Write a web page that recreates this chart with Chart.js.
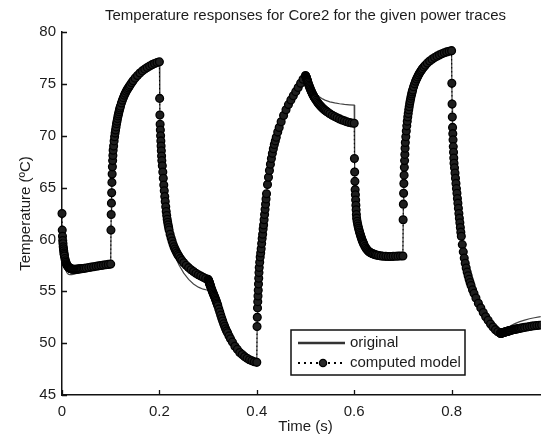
<!DOCTYPE html>
<html>
<head>
<meta charset="utf-8">
<script src="https://cdn.jsdelivr.net/npm/chart.js@4.4.1/dist/chart.umd.min.js"></script>
<style>
  html, body { margin: 0; padding: 0; background: #fff; }
  canvas { display: block; }
</style>
</head>
<body>
<canvas id="grafico" width="546" height="435"></canvas>
<script>
// ===========================
// Dados
// ===========================
const segmentStarts = [0, 0.1, 0.2, 0.3, 0.4, 0.5, 0.6, 0.7, 0.8, 0.9];

// instantes dentro de cada trecho (ms) - modelo
const modelOffsetsMs = [0, 0.5, 1, 1.5, 2, 2.5, 3, 3.5, 4, 4.5,
    5, 6, 7, 8, 9, 10, 11, 12, 13, 14,
    15, 16, 17, 18, 19, 20,
    22, 24, 26, 28, 30, 32, 34, 36, 38, 40,
    43, 46, 50,
    55, 60, 65, 70, 75, 80, 85, 90, 95];

// instantes dentro de cada trecho (ms) - original
const origOffsetsMs = [0, 1, 2, 3, 4, 6, 8, 10, 13, 16, 20, 25, 30, 35, 40, 50, 60, 70, 80, 90];

const model0 = [62.5, 60.9, 60.3, 59.9, 59.6, 59.3, 59.1, 58.9, 58.7, 58.55, 58.4, 58.15, 57.95, 57.8, 57.65, 57.55, 57.47, 57.4, 57.35, 57.3, 57.26, 57.23, 57.2, 57.18, 57.16, 57.15, 57.13, 57.12, 57.12, 57.12, 57.13, 57.14, 57.15, 57.16, 57.17, 57.18, 57.2, 57.22, 57.25, 57.29, 57.33, 57.37, 57.41, 57.45, 57.49, 57.52, 57.56, 57.59];
const model1 = [57.62, 60.9, 62.4, 63.5, 64.5, 65.5, 66.3, 67.0, 67.6, 68.1, 68.6, 69.0, 69.5, 69.9, 70.25, 70.55, 70.85, 71.15, 71.4, 71.65, 71.9, 72.1, 72.3, 72.5, 72.68, 72.85, 73.15, 73.42, 73.67, 73.9, 74.1, 74.28, 74.45, 74.6, 74.75, 74.9, 75.1, 75.3, 75.55, 75.8, 76.05, 76.25, 76.42, 76.58, 76.72, 76.85, 76.96, 77.05];
const model2 = [77.12, 73.6, 72.0, 71.1, 70.55, 70.0, 69.5, 69.0, 68.55, 68.05, 67.6, 67.1, 66.5, 65.9, 65.25, 64.7, 64.15, 63.65, 63.15, 62.7, 62.3, 61.95, 61.65, 61.4, 61.15, 60.9, 60.5, 60.15, 59.85, 59.55, 59.3, 59.08, 58.88, 58.7, 58.53, 58.38, 58.17, 57.98, 57.75, 57.5, 57.28, 57.08, 56.9, 56.74, 56.6, 56.47, 56.35, 56.23];
const model3 = [56.15, 56.1, 56.04, 55.98, 55.91, 55.84, 55.77, 55.7, 55.63, 55.56, 55.49, 55.36, 55.23, 55.1, 54.97, 54.85, 54.73, 54.62, 54.51, 54.4, 54.27, 54.14, 54.01, 53.87, 53.74, 53.6, 53.3, 53.0, 52.7, 52.4, 52.13, 51.86, 51.62, 51.38, 51.18, 51.0, 50.7, 50.42, 50.1, 49.7, 49.4, 49.1, 48.9, 48.7, 48.55, 48.4, 48.3, 48.2];
const model4 = [48.15, 51.6, 52.5, 53.4, 54.0, 54.55, 55.1, 55.7, 56.25, 56.8, 57.3, 57.8, 58.3, 58.7, 59.1, 59.6, 60.1, 60.5, 61.0, 61.4, 61.9, 62.4, 62.9, 63.4, 63.9, 64.4, 65.3, 66.0, 66.65, 67.25, 67.8, 68.3, 68.75, 69.15, 69.5, 69.85, 70.35, 70.8, 71.35, 71.95, 72.5, 73.0, 73.45, 73.85, 74.25, 74.65, 75.05, 75.45];
const model5 = [75.8, 75.75, 75.7, 75.63, 75.56, 75.49, 75.42, 75.35, 75.28, 75.21, 75.14, 75.0, 74.87, 74.74, 74.62, 74.5, 74.39, 74.28, 74.18, 74.08, 73.98, 73.89, 73.8, 73.72, 73.64, 73.56, 73.41, 73.27, 73.14, 73.02, 72.91, 72.81, 72.71, 72.62, 72.54, 72.46, 72.35, 72.25, 72.12, 71.98, 71.85, 71.73, 71.62, 71.52, 71.43, 71.35, 71.28, 71.22];
const model6 = [71.2, 67.8, 66.5, 65.6, 64.8, 64.3, 63.8, 63.3, 62.85, 62.4, 62.05, 61.75, 61.5, 61.28, 61.08, 60.9, 60.72, 60.56, 60.41, 60.26, 60.12, 59.98, 59.86, 59.74, 59.63, 59.52, 59.33, 59.17, 59.04, 58.93, 58.84, 58.77, 58.71, 58.66, 58.62, 58.58, 58.53, 58.49, 58.45, 58.41, 58.38, 58.37, 58.36, 58.36, 58.37, 58.38, 58.39, 58.4];
const model7 = [58.4, 61.9, 63.4, 64.45, 65.4, 66.2, 66.95, 67.6, 68.2, 68.8, 69.35, 69.9, 70.45, 70.95, 71.4, 71.8, 72.15, 72.5, 72.8, 73.1, 73.35, 73.6, 73.82, 74.03, 74.22, 74.4, 74.72, 75.0, 75.25, 75.47, 75.67, 75.85, 76.02, 76.18, 76.32, 76.45, 76.63, 76.8, 77.0, 77.2, 77.38, 77.53, 77.67, 77.79, 77.9, 78.0, 78.08, 78.15];
const model8 = [78.2, 75.05, 73.05, 71.8, 70.8, 70.2, 69.6, 68.95, 68.4, 67.85, 67.35, 66.9, 66.4, 65.9, 65.4, 64.9, 64.45, 63.95, 63.5, 63.0, 62.5, 62.05, 61.6, 61.15, 60.7, 60.3, 59.5, 58.8, 58.2, 57.7, 57.25, 56.85, 56.5, 56.15, 55.85, 55.55, 55.15, 54.8, 54.35, 53.85, 53.4, 52.95, 52.55, 52.2, 51.85, 51.55, 51.3, 51.1];
const model9 = [50.95, 50.95, 50.96, 50.96, 50.97, 50.97, 50.98, 50.98, 50.99, 51.0, 51.0, 51.02, 51.03, 51.05, 51.06, 51.08, 51.09, 51.1, 51.12, 51.13, 51.15, 51.16, 51.17, 51.19, 51.2, 51.21, 51.24, 51.26, 51.29, 51.31, 51.33, 51.35, 51.37, 51.39, 51.41, 51.43, 51.46, 51.49, 51.52, 51.56, 51.6, 51.64, 51.67, 51.7, 51.73, 51.75, 51.77, 51.79];

const orig0 = [61.0, 59.9, 59.0, 58.4, 58.0, 57.4, 57.0, 56.8, 56.65, 56.6, 56.6, 56.65, 56.72, 56.8, 56.9, 57.08, 57.25, 57.38, 57.48, 57.56];
const orig1 = [57.62, 62.4, 64.5, 66.3, 67.6, 69.0, 69.9, 70.55, 71.4, 72.1, 72.85, 73.55, 74.1, 74.55, 74.9, 75.55, 76.05, 76.42, 76.72, 76.96];
const orig2 = [77.12, 72.0, 70.55, 69.5, 68.55, 67.1, 65.9, 64.7, 63.15, 61.9, 60.6, 59.6, 58.8, 58.1, 57.55, 56.75, 56.15, 55.7, 55.4, 55.2];
const orig3 = [55.1, 55.05, 55.0, 54.95, 54.9, 54.8, 54.7, 54.6, 54.45, 54.14, 53.6, 52.85, 52.13, 51.5, 51.0, 50.1, 49.4, 48.9, 48.55, 48.3];
const orig4 = [48.15, 52.5, 54.0, 55.1, 56.25, 57.8, 58.7, 59.6, 61.0, 62.4, 64.4, 66.3, 67.8, 68.95, 69.85, 71.35, 72.5, 73.45, 74.25, 75.05];
const orig5 = [75.8, 75.72, 75.62, 75.52, 75.42, 75.22, 75.02, 74.84, 74.6, 74.38, 74.14, 73.9, 73.7, 73.55, 73.43, 73.27, 73.16, 73.08, 73.02, 72.98];
const orig6 = [72.95, 66.5, 64.8, 63.8, 62.85, 61.75, 61.28, 60.9, 60.41, 59.98, 59.52, 59.1, 58.84, 58.68, 58.58, 58.45, 58.38, 58.36, 58.37, 58.39];
const orig7 = [58.4, 63.4, 65.4, 66.95, 68.2, 69.9, 70.95, 71.8, 72.8, 73.6, 74.4, 75.12, 75.67, 76.1, 76.45, 77.0, 77.38, 77.67, 77.9, 78.08];
const orig8 = [78.2, 73.05, 70.8, 69.6, 68.4, 66.9, 65.9, 64.9, 63.5, 62.05, 60.3, 58.5, 57.25, 56.3, 55.55, 54.35, 53.4, 52.55, 51.85, 51.3];
const orig9 = [50.95, 50.97, 51.0, 51.04, 51.08, 51.15, 51.22, 51.3, 51.4, 51.5, 51.62, 51.76, 51.88, 51.98, 52.07, 52.22, 52.35, 52.45, 52.53, 52.6];

const timeTicks = [0, 0.2, 0.4, 0.6, 0.8];
const tempTicks = [45, 50, 55, 60, 65, 70, 75, 80];

const modelSegments = [model0, model1, model2, model3, model4, model5, model6, model7, model8, model9];
const origSegments = [orig0, orig1, orig2, orig3, orig4, orig5, orig6, orig7, orig8, orig9];

// ===========================
// Monta pontos {x, y}
// ===========================
function montarSerie(offsetsMs, segmentos) {
    const pontos = [];
    segmentos.forEach((seg, i) => {
        seg.forEach((valor, j) => {
            pontos.push({ x: segmentStarts[i] + offsetsMs[j] / 1000, y: valor });
        });
    });
    return pontos;
}

const FONTE = "'Liberation Sans', Arial, Helvetica, sans-serif";
const COR_TEXTO = '#1c1c1c';
const TITULO = 'Temperature responses for Core2 for the given power traces';
const TITULO_X = 'Time (s)';

// ===========================
// Títulos (centrados no eixo 0..1 como no MATLAB)
// ===========================
const titulos = {
    id: 'titulos',
    afterDraw(chart) {
        const { ctx, scales: { x } } = chart;
        const cx = x.getPixelForValue(0.5);
        ctx.save();
        ctx.fillStyle = COR_TEXTO;
        ctx.font = `15px ${FONTE}`;
        ctx.textAlign = 'center';
        ctx.textBaseline = 'middle';
        ctx.fillText(TITULO, cx, 16);
        ctx.fillText(TITULO_X, cx, 427);
        ctx.restore();
    }
};

// ===========================
// Ticks para dentro (estilo MATLAB)
// ===========================
const ticksInternos = {
    id: 'ticksInternos',
    afterDraw(chart) {
        const { ctx, chartArea: a, scales: { x, y } } = chart;
        ctx.save();
        ctx.strokeStyle = '#111';
        ctx.lineWidth = 1.3;
        ctx.beginPath();
        x.ticks.forEach(t => {
            const px = Math.round(x.getPixelForValue(t.value)) + 0.5;
            ctx.moveTo(px, a.bottom);
            ctx.lineTo(px, a.bottom - 5);
        });
        y.ticks.forEach(t => {
            const py = Math.round(y.getPixelForValue(t.value)) + 0.5;
            ctx.moveTo(a.left, py);
            ctx.lineTo(a.left + 5, py);
        });
        ctx.stroke();
        ctx.restore();
    }
};

// ===========================
// Legenda dentro do gráfico
// ===========================
const legendaCaixa = {
    id: 'legendaCaixa',
    afterDraw(chart) {
        const { ctx, chartArea: a } = chart;
        const left = a.left + 229, top = a.top + 298, w = 174, h = 45;
        ctx.save();
        ctx.fillStyle = '#fff';
        ctx.fillRect(left, top, w, h);
        ctx.strokeStyle = '#111';
        ctx.lineWidth = 1.5;
        ctx.strokeRect(left, top, w, h);

        // original
        const y1 = top + 13, y2 = top + 33;
        ctx.strokeStyle = '#333';
        ctx.lineWidth = 2.6;
        ctx.beginPath();
        ctx.moveTo(left + 7, y1);
        ctx.lineTo(left + 54, y1);
        ctx.stroke();

        // computed model
        ctx.strokeStyle = '#000';
        ctx.lineWidth = 2;
        ctx.setLineDash([2, 4]);
        ctx.beginPath();
        ctx.moveTo(left + 7, y2);
        ctx.lineTo(left + 54, y2);
        ctx.stroke();
        ctx.setLineDash([]);
        ctx.beginPath();
        ctx.arc(left + 32, y2, 3.6, 0, Math.PI * 2);
        ctx.fillStyle = '#2a2a2a';
        ctx.fill();
        ctx.lineWidth = 1.3;
        ctx.strokeStyle = '#000';
        ctx.stroke();

        ctx.fillStyle = COR_TEXTO;
        ctx.font = `15px ${FONTE}`;
        ctx.textBaseline = 'middle';
        ctx.textAlign = 'left';
        ctx.fillText('original', left + 59, y1);
        ctx.fillText('computed model', left + 59, y2);
        ctx.restore();
    }
};

// ===========================
// Gráfico
// ===========================
const ctx = document.getElementById('grafico').getContext('2d');

new Chart(ctx, {
    type: 'line',
    data: {
        datasets: [
            {
                label: 'computed model',
                data: montarSerie(modelOffsetsMs, modelSegments),
                borderColor: '#000',
                borderWidth: 1,
                borderDash: [1.5, 2.5],
                pointRadius: 3.9,
                pointBorderWidth: 1.3,
                pointBackgroundColor: '#1e1e1e',
                pointBorderColor: '#000',
                tension: 0,
                order: 0,
                clip: { left: 8, top: 8, right: 0, bottom: 8 }
            },
            {
                label: 'original',
                data: montarSerie(origOffsetsMs, origSegments),
                borderColor: '#444',
                borderWidth: 1.2,
                pointRadius: 0,
                tension: 0,
                order: 1,
                clip: { left: 2, top: 2, right: 0, bottom: 2 }
            }
        ]
    },
    options: {
        responsive: false,
        animation: false,
        devicePixelRatio: 1,
        layout: { padding: { top: 32, left: 0, right: 0, bottom: 0 } },
        plugins: {
            legend: { display: false },
            tooltip: { enabled: false },
            title: { display: false }
        },
        scales: {
            x: {
                type: 'linear',
                min: 0,
                max: 0.983,
                afterBuildTicks: scale => {
                    scale.ticks = timeTicks.map(v => ({ value: v }));
                },
                afterFit: scale => { scale.height = 40; },
                grid: { drawOnChartArea: false, drawTicks: false },
                border: { display: true, color: '#111', width: 1.5 },
                ticks: {
                    color: COR_TEXTO,
                    padding: 8,
                    maxRotation: 0,
                    font: { family: FONTE, size: 15 },
                    callback: v => String(v)
                },
                title: { display: false }
            },
            y: {
                min: 45,
                max: 80,
                afterBuildTicks: scale => {
                    scale.ticks = tempTicks.map(v => ({ value: v }));
                },
                afterFit: scale => { scale.width = 62; },
                grid: { drawOnChartArea: false, drawTicks: false },
                border: { display: true, color: '#111', width: 1.5 },
                ticks: {
                    color: COR_TEXTO,
                    padding: 6,
                    font: { family: FONTE, size: 15 },
                    callback: v => String(v)
                },
                title: {
                    display: true,
                    text: 'Temperature (ºC)',
                    color: COR_TEXTO,
                    font: { family: FONTE, size: 15 },
                    padding: { top: 17, bottom: 0 }
                }
            }
        }
    },
    plugins: [ticksInternos, legendaCaixa, titulos]
});
</script>
</body>
</html>
